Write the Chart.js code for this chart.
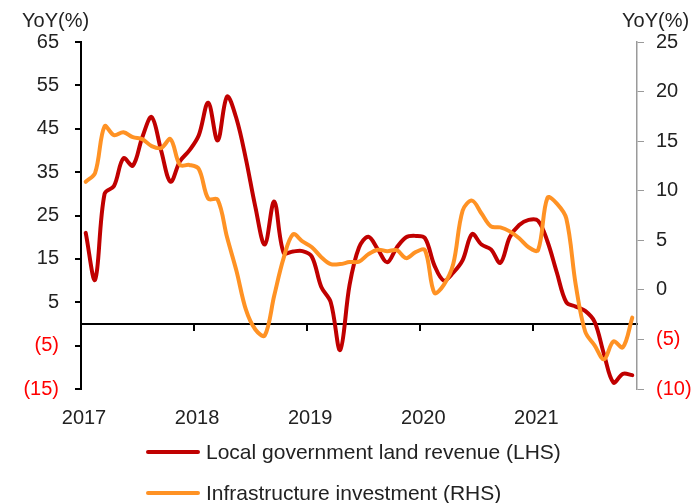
<!DOCTYPE html>
<html>
<head>
<meta charset="utf-8">
<script src="https://cdn.jsdelivr.net/npm/chart.js@4.4.1/dist/chart.umd.min.js"></script>
<style>
html,body{margin:0;padding:0;background:#fff;}
#wrap{position:relative;width:694px;height:503px;overflow:hidden;font-family:"Liberation Sans",Arial,sans-serif;color:#222;}
#c{position:absolute;left:0;top:0;}
.unit{position:absolute;top:8px;font-size:20px;line-height:24px;white-space:nowrap;}
#legend{position:absolute;left:146px;top:440px;font-size:21px;}
.row{display:flex;align-items:center;height:24px;margin-bottom:17px;white-space:nowrap;}
.sw{width:54px;height:4px;margin-right:6px;border-radius:2px;}
</style>
</head>
<body>
<div id="wrap">
<canvas id="c" width="694" height="503" style="width:694px;height:503px"></canvas>
<div class="unit" style="left:22px">YoY(%)</div>
<div class="unit" style="left:622px">YoY(%)</div>
<div id="legend"></div>
</div>
<script>
// Categories: monthly observations
const months = [
 '2017-01','2017-02','2017-03','2017-04','2017-05','2017-06','2017-07','2017-08','2017-09','2017-10','2017-11','2017-12',
 '2018-01','2018-02','2018-03','2018-04','2018-05','2018-06','2018-07','2018-08','2018-09','2018-10','2018-11','2018-12',
 '2019-01','2019-02','2019-03','2019-04','2019-05','2019-06','2019-07','2019-08','2019-09','2019-10','2019-11','2019-12',
 '2020-01','2020-02','2020-03','2020-04','2020-05','2020-06','2020-07','2020-08','2020-09','2020-10','2020-11','2020-12',
 '2021-01','2021-02','2021-03','2021-04','2021-05','2021-06','2021-07','2021-08','2021-09','2021-10','2021-11'
];
// Local government land revenue, YoY % (left axis)
const landRevenue = [
 21, 10.2, 30, 31.8, 38.2, 36.5, 43, 47.7, 40, 32.8, 37.5, 40,
 43.5, 51, 42.3, 52.4, 47.3, 38, 27, 18.3, 28.2, 16.4, 16.7, 16.8,
 15.5, 8.5, 5, -6, 9, 17.6, 20.1, 17.2, 14.2, 17.6, 20, 20.3,
 19.8, 13.5, 10, 11.8, 14.7, 20.7, 18.3, 17.2, 14.1, 20, 22.8, 24,
 23.8, 19, 11.8, 5, 4, 3, 0.5, -7, -13.5, -11.5, -11.8
];
// Infrastructure investment, YoY % (right axis)
const infraInvestment = [
 10.9, 11.8, 16.5, 15.6, 15.9, 15.4, 15.2, 14.5, 14.3, 15.2, 12.6, 12.6,
 12.2, 9.2, 9.1, 5.3, 1.9, -2.0, -4.0, -4.6, -0.6, 3.2, 5.6, 4.9,
 4.3, 3.3, 2.6, 2.6, 2.8, 2.85, 3.6, 4.05, 3.9, 4.0, 3.2, 3.8,
 4.0, -0.3, 0.5, 2.6, 8.0, 9.0, 7.7, 6.4, 6.3, 5.9, 5.2, 4.3,
 4.0, 9.3, 8.7, 7.2, 0.5, -4.2, -5.6, -7.0, -5.2, -5.8, -2.8
];
// Tick labels
const yearLabels = ['2017','2018','2019','2020','2021'];
const leftTicks = [-15, -5, 5, 15, 25, 35, 45, 55, 65];
const rightTicks = [-10, -5, 0, 5, 10, 15, 20, 25];
const seriesNames = ['Local government land revenue (LHS)', 'Infrastructure investment (RHS)'];

const RED = '#C00000', ORANGE = '#FF9224', TXT = '#222', NEG = '#FF0000';
Chart.defaults.font.family = '"Liberation Sans", Arial, sans-serif';
Chart.defaults.font.size = 20;
Chart.defaults.color = TXT;

const fmt = v => v < 0 ? '(' + Math.abs(v) + ')' : String(v);
const tickColor = c => (c.tick && c.tick.value < 0) ? NEG : TXT;
const yearMark = c => (c.index % 12 === 0) ? '#000' : 'rgba(0,0,0,0)';

const chart = new Chart(document.getElementById('c'), {
  type: 'line',
  data: {
    labels: months,
    datasets: [
      { label: seriesNames[0], data: landRevenue, xAxisID: 'x', yAxisID: 'y',
        borderColor: RED, backgroundColor: RED, borderWidth: 4, pointRadius: 0,
        tension: 0.35, borderCapStyle: 'round', borderJoinStyle: 'round', order: 2 },
      { label: seriesNames[1], data: infraInvestment, xAxisID: 'x', yAxisID: 'y1',
        borderColor: ORANGE, backgroundColor: ORANGE, borderWidth: 4, pointRadius: 0,
        tension: 0.35, borderCapStyle: 'round', borderJoinStyle: 'round', order: 1 }
    ]
  },
  options: {
    responsive: false,
    animation: false,
    devicePixelRatio: 1,
    layout: { padding: { top: 42, bottom: 70, left: 0, right: 0 } },
    plugins: { legend: { display: false }, tooltip: { enabled: false } },
    scales: {
      x: {
        type: 'category', labels: months, offset: true, position: { y: 0 },
        grid: { display: true, drawOnChartArea: false, drawTicks: true, tickLength: 6, offset: true,
                color: yearMark, tickColor: yearMark, tickWidth: 2, lineWidth: 2 },
        border: { display: true, color: '#000', width: 2 },
        ticks: { display: false },
        afterFit: s => { s.height = 0; }
      },
      xYears: {
        type: 'linear', position: 'bottom', min: 0, max: months.length,
        afterBuildTicks: s => { s.ticks = yearLabels.map((_, i) => ({ value: i * 12 })); },
        ticks: { callback: v => yearLabels[v / 12], padding: 17, labelOffset: 3, color: TXT,
                 autoSkip: false, maxRotation: 0, font: { size: 20 } },
        grid: { display: false, drawTicks: false },
        border: { display: false },
        afterFit: s => { s.height = 44; }
      },
      y: {
        position: 'left', min: leftTicks[0], max: leftTicks[leftTicks.length - 1],
        afterBuildTicks: s => { s.ticks = leftTicks.map(v => ({ value: v })); },
        ticks: { callback: fmt, color: tickColor, padding: 16, font: { size: 20 } },
        grid: { drawOnChartArea: false, tickLength: 6, color: '#000', lineWidth: 2 },
        border: { color: '#000', width: 2 },
        afterFit: s => { s.width = 81; }
      },
      y1: {
        position: 'right', min: rightTicks[0], max: rightTicks[rightTicks.length - 1],
        afterBuildTicks: s => { s.ticks = rightTicks.map(v => ({ value: v })); },
        ticks: { callback: fmt, color: tickColor, padding: 12, font: { size: 20 } },
        grid: { drawOnChartArea: false, tickLength: 7, color: '#9a9a9a', lineWidth: 1 },
        border: { color: '#9a9a9a', width: 1.5 },
        afterFit: s => { s.width = 57; }
      }
    }
  }
});

// HTML legend built from the chart's datasets
const lg = document.getElementById('legend');
chart.data.datasets.forEach(ds => {
  const row = document.createElement('div'); row.className = 'row';
  const sw = document.createElement('span'); sw.className = 'sw'; sw.style.background = ds.borderColor;
  const tx = document.createElement('span'); tx.textContent = ds.label;
  row.appendChild(sw); row.appendChild(tx); lg.appendChild(row);
});
</script>
</body>
</html>
